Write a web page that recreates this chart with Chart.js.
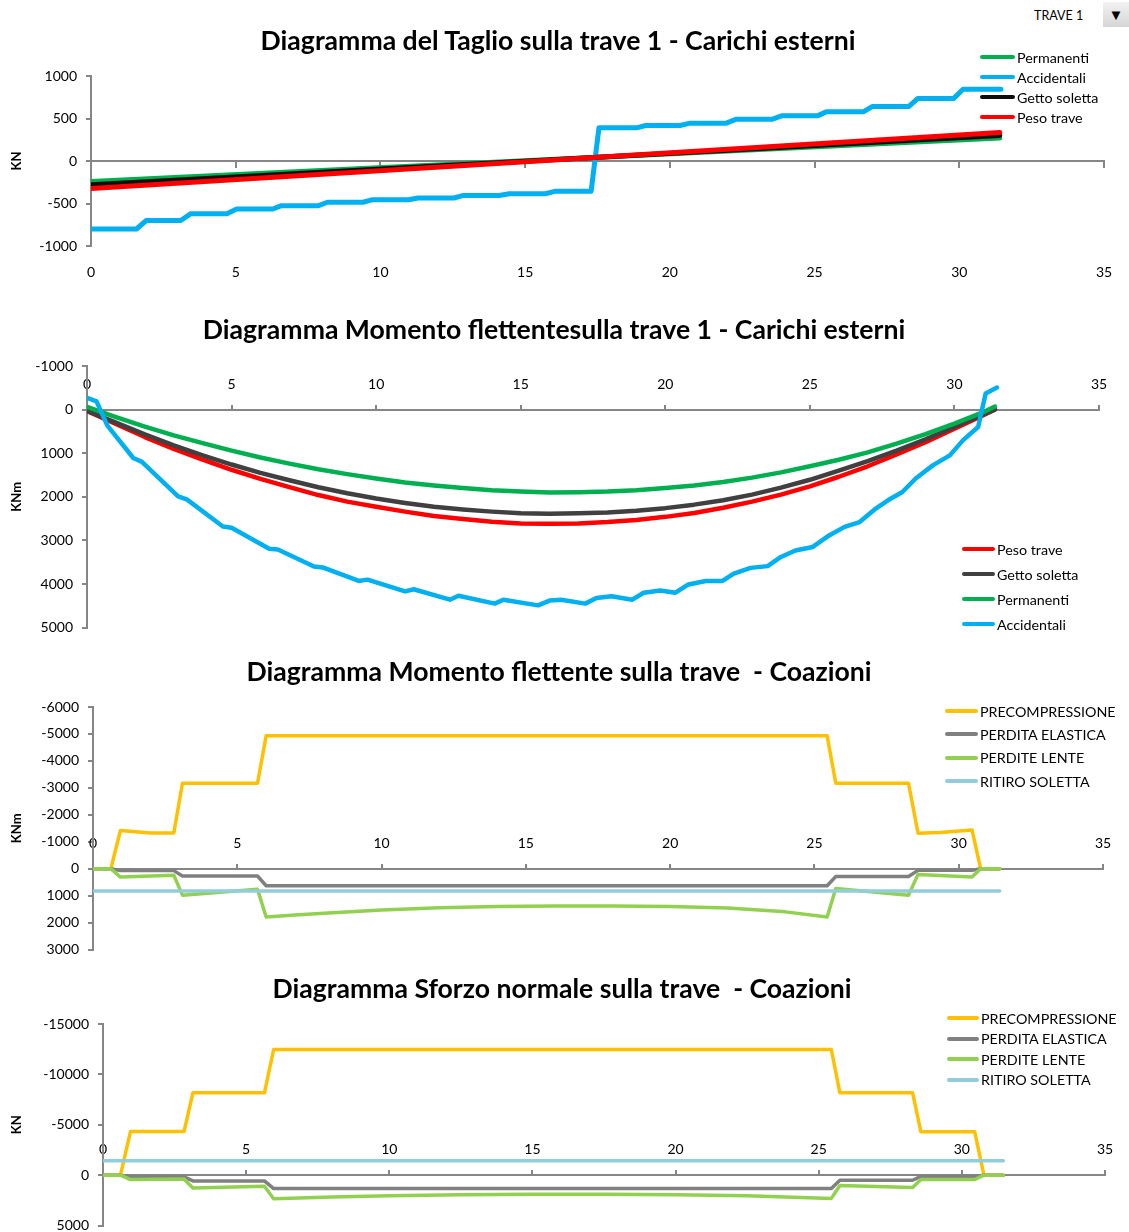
<!DOCTYPE html>
<html>
<head>
<meta charset="utf-8">
<script src="https://cdn.jsdelivr.net/npm/chart.js@4.4.1/dist/chart.umd.min.js"></script>
<style>
  body { margin: 0; background: #fff; font-family: Lato, 'Open Sans', sans-serif; }
  #page { position: relative; width: 1129px; height: 1232px; overflow: hidden; }
  .box { position: absolute; left: 0; width: 1129px; }
  .title { position: absolute; font-weight: bold; font-size: 26.6px; line-height: 30px; white-space: nowrap; transform: translateX(-50%); color: #000; z-index: 2; }
  .legend { position: absolute; left: 0; top: 0; font-size: 14.3px; color: #000; z-index: 3; }
  .legend .row { position: absolute; display: flex; align-items: center; height: 20px; white-space: nowrap; }
  .legend .sw { display: inline-block; height: 4px; border-radius: 2px; margin-right: 2px; }
  #trave { position: absolute; left: 1034px; top: 8px; font-size: 12.5px; color: #000; }
  #drop { position: absolute; left: 1103px; top: 2px; width: 26px; height: 25px; background: linear-gradient(#f2f2f2, #d6d6d6); font-size: 15px; text-align: center; line-height: 25px; color: #000; }
</style>
</head>
<body>
<div id="page">
  <div id="trave">TRAVE 1</div>
  <div id="drop">&#9660;</div>

  <div class="title" style="left:558px;top:25px">Diagramma del Taglio sulla trave 1 - Carichi esterni</div>
  <div class="box" style="top:0;height:290px"><canvas id="c1"></canvas></div>

  <div class="title" style="left:554px;top:314px">Diagramma Momento flettentesulla trave 1 - Carichi esterni</div>
  <div class="box" style="top:300px;height:345px"><canvas id="c2"></canvas></div>

  <div class="title" style="left:559px;top:656px">Diagramma Momento flettente sulla trave&nbsp; - Coazioni</div>
  <div class="box" style="top:645px;height:322px"><canvas id="c3"></canvas></div>

  <div class="title" style="left:562px;top:973px">Diagramma Sforzo normale sulla trave&nbsp; - Coazioni</div>
  <div class="box" style="top:960px;height:283px"><canvas id="c4"></canvas></div>

  <div class="legend" id="leg"></div>
</div>

<script>
// ── DATA: TAGLIO (KN) ──
const T_LIN_X    = [0, 31.4];
const T_PERM     = [-240, 270];
const T_GETTO    = [-280, 300];
const T_PESO     = [-325, 336];
const T_ACC_X    = [0, 1.57, 1.91, 3.1, 3.45, 4.7, 5.03, 6.28, 6.58, 7.86, 8.17, 9.4, 9.73, 10.97, 11.3, 12.54, 12.87, 14.1, 14.45, 15.7, 16.05, 17.28,
                    17.55, 18.85, 19.16, 20.35, 20.7, 21.95, 22.3, 23.55, 23.86, 25.1, 25.4, 26.68, 26.99, 28.25, 28.56, 29.8, 30.13, 31.44];
const T_ACC      = [-800, -800, -700, -700, -620, -620, -565, -565, -525, -525, -485, -485, -455, -455, -435, -435, -405, -405, -385, -385, -355, -355,
                    390, 390, 418, 418, 445, 445, 492, 492, 531, 531, 578, 578, 640, 640, 734, 734, 844, 844];

// ── DATA: MOMENTO CARICHI ESTERNI (KNm) ──
const M_X        = [0, 1, 2, 3, 4, 5, 6, 7, 8, 9, 10, 11, 12, 13, 14, 15, 16, 17, 18, 19, 20, 21, 22, 23, 24, 25, 26, 27, 28, 29, 30, 31, 31.4];
const M_PESO     = [30, 330, 630, 900, 1150, 1380, 1590, 1780, 1960, 2110, 2230, 2340, 2440, 2510, 2570, 2610, 2620, 2610, 2580, 2530, 2460, 2370, 2250, 2110, 1950, 1760, 1540, 1300, 1030, 750, 440, 130, 0];
const M_GETTO    = [30, 300, 570, 820, 1050, 1260, 1450, 1620, 1780, 1920, 2040, 2140, 2230, 2290, 2340, 2380, 2390, 2380, 2360, 2320, 2260, 2180, 2080, 1950, 1790, 1610, 1400, 1180, 940, 680, 400, 110, 0];
const M_PERM     = [-60, 170, 390, 590, 770, 940, 1100, 1240, 1370, 1480, 1580, 1670, 1740, 1800, 1850, 1880, 1900, 1895, 1880, 1850, 1800, 1740, 1660, 1560, 1440, 1300, 1150, 980, 780, 560, 320, 60, -70];
const M_ACC_X    = [0, 0.33, 0.7, 1.6, 1.9, 3.15, 3.45, 4.7, 5.0, 6.3, 6.6, 7.85, 8.15, 9.4, 9.7, 11.0, 11.3, 12.55, 12.85, 14.1, 14.4, 15.6, 16.0,
                    16.4, 17.23, 17.62, 18.14, 18.86, 19.25, 19.83, 20.35, 20.8, 21.4, 21.98, 22.37, 22.95, 23.54, 24.0, 24.5, 25.1, 25.68,
                    26.2, 26.72, 27.24, 27.7, 28.2, 28.66, 29.25, 29.84, 30.3, 30.82, 31.08, 31.47];
const M_ACC      = [-270, -190, 360, 1110, 1200, 1990, 2060, 2680, 2710, 3190, 3210, 3600, 3620, 3930, 3900, 4170, 4120, 4360, 4270, 4450, 4360, 4490, 4380,
                    4360, 4450, 4320, 4280, 4360, 4200, 4150, 4200, 4010, 3930, 3930, 3760, 3630, 3590, 3380, 3230, 3150, 2880,
                    2690, 2580, 2290, 2080, 1890, 1580, 1280, 1050, 700, 400, -370, -505];

// ── DATA: MOMENTO COAZIONI (KNm) ──
const C_STEP_X   = [0, 0.62, 0.95, 2.8, 3.1, 5.7, 6.0, 25.44, 25.74, 28.26, 28.59, 30.46, 30.76, 31.42];
const C_PRE_X    = [0, 0.62, 0.95, 2.0, 2.8, 3.1, 5.7, 6.0, 25.44, 25.74, 28.26, 28.59, 29.36, 30.46, 30.76, 31.42];
const C_PRE      = [0, 0, -1420, -1330, -1330, -3170, -3170, -4930, -4930, -3170, -3170, -1320, -1340, -1440, 0, 0];
const C_ELAS     = [0, 0, 70, 70, 270, 270, 630, 630, 290, 290, 60, 60, 0, 0];
const C_LENTE_X  = [0, 0.62, 0.95, 2.8, 3.1, 5.7, 6.0, 7, 8, 10, 12, 14, 16, 18, 20, 22, 24, 25.44, 25.74, 28.26, 28.59, 30.46, 30.76, 31.42];
const C_LENTE    = [0, 0, 310, 240, 980, 760, 1790, 1720, 1650, 1530, 1450, 1400, 1380, 1385, 1400, 1460, 1600, 1790, 730, 980, 210, 310, 0, 0];
const C_RIT_X    = [0, 31.42];
const C_RIT      = [830, 830];

// ── DATA: SFORZO NORMALE COAZIONI (KN) ──
const N_STEP_X   = [0, 0.61, 0.96, 2.83, 3.14, 5.64, 5.96, 25.44, 25.74, 28.28, 28.57, 30.45, 30.77, 31.45];
const N_PRE      = [0, 0, -4330, -4330, -8170, -8170, -12470, -12470, -8170, -8170, -4300, -4300, 0, 0];
const N_ELAS     = [0, 0, 170, 170, 570, 570, 1330, 1330, 500, 500, 120, 120, 0, 0];
const N_LENTE_X  = [0, 0.61, 0.96, 2.83, 3.14, 5.64, 5.96, 8, 10, 12.5, 15, 17.5, 20, 22.5, 25.44, 25.74, 28.28, 28.57, 30.45, 30.77, 31.45];
const N_LENTE    = [0, 0, 430, 370, 1270, 1100, 2330, 2170, 2030, 1940, 1880, 1880, 1930, 2050, 2300, 1030, 1230, 430, 430, 0, 0];
const N_RIT_X    = [0, 31.45];
const N_RIT      = [-1430, -1430];

// ── SERIES NAMES / COLOURS ──
const NAMES_EST  = ['Permanenti', 'Accidentali', 'Getto soletta', 'Peso trave'];
const NAMES_COAZ = ['PRECOMPRESSIONE', 'PERDITA ELASTICA', 'PERDITE LENTE', 'RITIRO SOLETTA'];
const GREEN = '#00b050', BLUE = '#00b0f0', RED = '#ff0000';
const YEL = '#ffc000', GREY = '#808080', LGREEN = '#92d050', LBLUE = '#92cddc';

// ── DEFAULTS ──
const FONT = "Lato, 'Open Sans', sans-serif";
const AXIS = '#868686';
Chart.defaults.font.family = FONT;
Chart.defaults.font.size = 14;
Chart.defaults.color = '#000';
Chart.defaults.animation = false;

const pts = (xs, ys) => xs.map((x, i) => ({ x, y: ys[i] }));

// datasets listed in legend order; later ones are drawn on top (as in the sheet)
function sets(list, width) {
  const n = list.length;
  return list.map((s, i) => ({
    label: s.label,
    data: pts(s.x, s.y),
    borderColor: s.color,
    backgroundColor: s.color,
    borderWidth: width,
    pointRadius: 0,
    tension: 0,
    borderJoinStyle: 'round',
    borderCapStyle: 'round',
    order: n - i,
  }));
}

function yAxis(min, max, step, reverse, title, width) {
  return {
    type: 'linear', position: 'left', min, max, reverse,
    ticks: { stepSize: step, padding: 9, callback: v => String(v) },
    grid: { drawOnChartArea: false, tickLength: 5, color: AXIS, lineWidth: 2 },
    border: { color: AXIS, width: 2 },
    title: { display: true, text: title, font: { weight: 'bold', size: 13 }, padding: { top: 9, bottom: 0 } },
    afterFit: s => { s.width = width; }
  };
}

// x axis lying on y = 0, labels above the line
function xZero(labels) {
  return {
    type: 'linear', position: { y: 0 }, min: 0, max: 35,
    ticks: labels ? { stepSize: 5, padding: -28, callback: v => String(v) } : { stepSize: 5, display: false },
    grid: { drawOnChartArea: false, tickLength: labels ? -6 : 6, color: AXIS, lineWidth: 2 },
    border: { color: AXIS, width: 2 }
  };
}

function make(id, datasets, scales, padding) {
  return new Chart(document.getElementById(id), {
    type: 'line',
    data: { datasets },
    options: {
      responsive: true,
      maintainAspectRatio: false,
      layout: { padding },
      plugins: { legend: { display: false }, tooltip: { enabled: false } },
      scales
    }
  });
}

// ── CHART 1: TAGLIO ──
const c1 = make('c1', sets([
  { label: NAMES_EST[0], x: T_LIN_X, y: T_PERM,  color: GREEN },
  { label: NAMES_EST[1], x: T_ACC_X, y: T_ACC,   color: BLUE },
  { label: NAMES_EST[2], x: T_LIN_X, y: T_GETTO, color: '#0d0d0d' },
  { label: NAMES_EST[3], x: T_LIN_X, y: T_PESO,  color: RED },
], 5), {
  x: xZero(false),
  xb: {
    type: 'linear', position: 'bottom', min: 0, max: 35,
    ticks: { stepSize: 5, padding: 10, callback: v => String(v) },
    grid: { display: false }, border: { display: false },
    afterFit: s => { s.height = 44; }
  },
  y: yAxis(-1000, 1000, 500, false, 'KN', 91)
}, { top: 76, right: 25, bottom: 0, left: 0 });

// ── CHART 2: MOMENTO CARICHI ESTERNI ──
const c2 = make('c2', sets([
  { label: NAMES_EST[3], x: M_X,     y: M_PESO,  color: RED },
  { label: NAMES_EST[2], x: M_X,     y: M_GETTO, color: '#404040' },
  { label: NAMES_EST[0], x: M_X,     y: M_PERM,  color: GREEN },
  { label: NAMES_EST[1], x: M_ACC_X, y: M_ACC,   color: BLUE },
], 4.5), {
  x: xZero(true),
  y: yAxis(-1000, 5000, 1000, true, 'KNm', 87)
}, { top: 66, right: 30, bottom: 0, left: 0 });

// ── CHART 3: MOMENTO COAZIONI ──
const c3 = make('c3', sets([
  { label: NAMES_COAZ[0], x: C_PRE_X,   y: C_PRE,   color: YEL },
  { label: NAMES_COAZ[1], x: C_STEP_X,  y: C_ELAS,  color: GREY },
  { label: NAMES_COAZ[2], x: C_LENTE_X, y: C_LENTE, color: LGREEN },
  { label: NAMES_COAZ[3], x: C_RIT_X,   y: C_RIT,   color: LBLUE },
], 3.5), {
  x: xZero(true),
  y: yAxis(-6000, 3000, 1000, true, 'KNm', 93)
}, { top: 62, right: 26, bottom: 0, left: 0 });

// ── CHART 4: SFORZO NORMALE COAZIONI ──
const c4 = make('c4', sets([
  { label: NAMES_COAZ[0], x: N_STEP_X,  y: N_PRE,   color: YEL },
  { label: NAMES_COAZ[1], x: N_STEP_X,  y: N_ELAS,  color: GREY },
  { label: NAMES_COAZ[2], x: N_LENTE_X, y: N_LENTE, color: LGREEN },
  { label: NAMES_COAZ[3], x: N_RIT_X,   y: N_RIT,   color: LBLUE },
], 3.5), {
  x: xZero(true),
  y: yAxis(-15000, 5000, 5000, true, 'KN', 103)
}, { top: 64, right: 24, bottom: 0, left: 0 });

// ── LEGENDS (built from the chart datasets) ──
function legend(chart, x, y0, dy, sw) {
  const host = document.getElementById('leg');
  chart.data.datasets.forEach((d, i) => {
    const row = document.createElement('div');
    row.className = 'row';
    row.style.left = x + 'px';
    row.style.top = (y0 + i * dy - 10) + 'px';
    row.innerHTML = `<span class="sw" style="width:${sw}px;background:${d.borderColor}"></span>${d.label}`;
    host.appendChild(row);
  });
}
legend(c1, 980, 57, 20, 35);
legend(c2, 962, 549, 25, 33);
legend(c3, 945, 711, 23.4, 33);
legend(c4, 947, 1018, 20.6, 32);
</script>
</body>
</html>
